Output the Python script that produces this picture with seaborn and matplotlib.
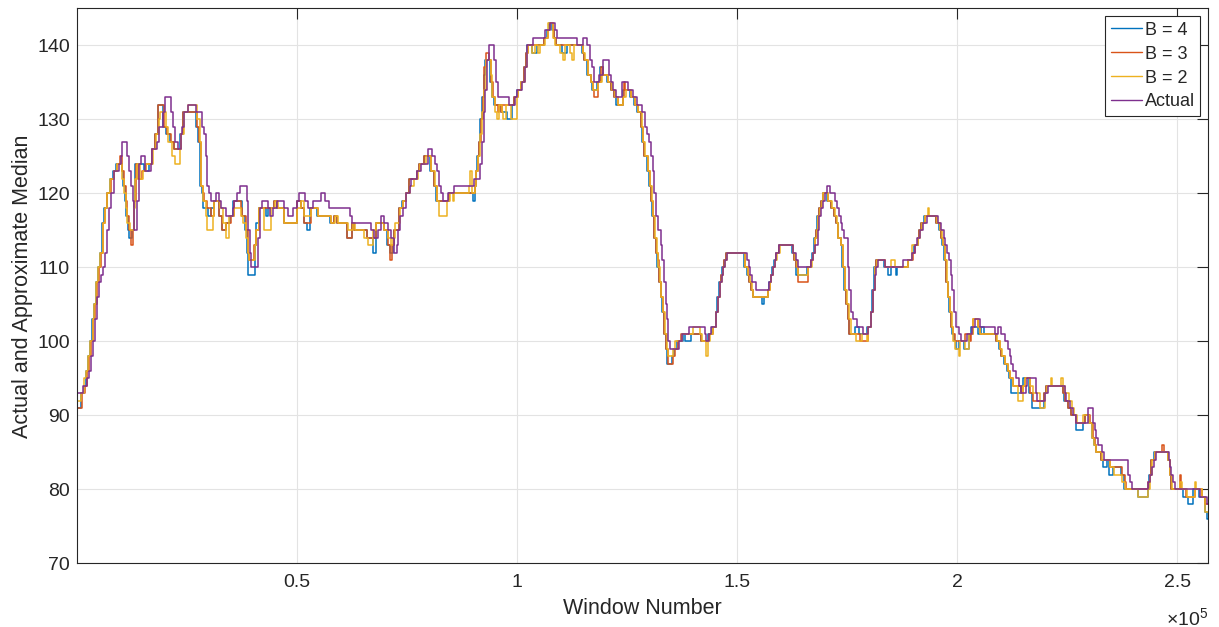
import numpy as np
import pandas as pd
import matplotlib
matplotlib.use("Agg")
import matplotlib.pyplot as plt
from matplotlib.lines import Line2D
import seaborn as sns

# Window numbers are given in thousands; each list pairs with the value list below it.
actual_k = [
    0.2, 1.5, 2.3, 2.8, 3.3, 3.7, 4.2, 4.6, 5.1, 5.5,
    6.0, 6.4, 6.9, 7.3, 7.8, 8.5, 9.6, 10.0, 10.4, 11.5,
    11.9, 12.4, 12.7, 13.0, 13.8, 14.2, 14.5, 15.5, 16.8, 17.2,
    18.3, 18.7, 19.5, 20.1, 21.5, 21.9, 22.3, 23.0, 23.6, 24.0,
    24.4, 25.2, 27.2, 28.4, 28.9, 29.3, 29.7, 30.1, 30.5, 31.6,
    32.3, 32.7, 34.0, 35.4, 35.8, 36.5, 37.0, 38.6, 39.0, 39.4,
    39.7, 41.2, 41.6, 42.2, 43.4, 43.9, 44.6, 45.4, 47.0, 48.0,
    49.2, 50.0, 50.6, 51.8, 52.6, 53.6, 55.6, 56.4, 57.4, 62.1,
    62.6, 66.8, 67.6, 68.4, 69.1, 69.8, 70.6, 71.4, 72.1, 72.7,
    73.0, 73.4, 74.0, 74.8, 75.6, 76.0, 77.2, 78.2, 79.9, 80.7,
    81.4, 81.9, 82.2, 82.7, 83.3, 84.4, 85.6, 90.3, 91.6, 92.0,
    92.4, 92.8, 93.2, 93.6, 94.8, 95.2, 95.6, 98.1, 99.6, 100.0,
    101.2, 101.8, 102.2, 103.6, 106.4, 107.5, 108.6, 109.0, 113.6, 115.0,
    116.0, 116.6, 117.0, 117.6, 118.6, 119.6, 120.8, 121.4, 121.9, 122.6,
    123.9, 125.3, 126.4, 127.2, 128.4, 129.0, 129.6, 130.0, 130.4, 130.8,
    131.2, 131.6, 132.0, 132.6, 133.0, 133.4, 133.8, 134.1, 134.4, 134.8,
    136.9, 137.4, 139.1, 142.6, 143.0, 143.6, 144.0, 145.3, 145.7, 146.1,
    146.5, 146.9, 147.3, 147.8, 152.2, 152.6, 153.0, 153.4, 154.2, 157.3,
    157.7, 158.1, 158.5, 158.9, 159.6, 162.6, 163.4, 163.8, 166.8, 167.2,
    167.6, 168.3, 168.7, 169.1, 169.5, 169.9, 170.3, 171.2, 172.3, 172.7,
    173.1, 173.5, 173.9, 174.3, 175.1, 175.4, 175.8, 176.2, 177.3, 178.5,
    179.7, 180.5, 180.8, 181.2, 181.6, 182.1, 183.6, 187.6, 189.6, 190.3,
    190.9, 191.5, 192.3, 193.1, 195.6, 196.2, 196.9, 197.3, 197.7, 198.1,
    198.5, 198.8, 199.2, 199.6, 200.3, 200.9, 202.1, 203.3, 204.0, 205.2,
    208.5, 209.2, 210.0, 210.8, 211.5, 211.9, 212.3, 212.7, 213.4, 214.0,
    214.4, 215.5, 215.9, 217.8, 218.2, 220.0, 220.6, 224.4, 224.8, 225.5,
    226.3, 227.0, 229.7, 230.8, 231.2, 231.6, 232.0, 232.8, 233.4, 238.8,
    239.2, 239.6, 243.4, 243.8, 244.2, 244.6, 245.2, 248.0, 248.4, 248.6,
    249.0, 249.4, 255.1, 256.6, 257.0,
]
actual_median = [
    93, 94, 95, 96, 98, 100, 103, 106, 108, 109,
    110, 112, 115, 118, 120, 123, 124, 125, 127, 125,
    123, 121, 119, 115, 119, 124, 125, 123, 124, 126,
    127, 129, 131, 133, 131, 129, 127, 126, 128, 129,
    131, 132, 131, 129, 128, 125, 121, 120, 119, 120,
    119, 118, 117, 118, 119, 120, 121, 119, 115, 112,
    110, 114, 118, 119, 118, 117, 118, 119, 118, 117,
    118, 119, 120, 119, 118, 119, 120, 119, 118, 117,
    116, 115, 114, 115, 117, 116, 115, 114, 112, 113,
    115, 117, 118, 120, 121, 122, 123, 124, 126, 125,
    124, 123, 121, 120, 119, 120, 121, 122, 124, 127,
    131, 134, 138, 140, 138, 135, 133, 132, 133, 134,
    135, 137, 140, 141, 142, 143, 142, 141, 140, 141,
    140, 138, 137, 135, 136, 138, 136, 135, 134, 133,
    135, 134, 133, 132, 131, 129, 128, 127, 125, 123,
    120, 117, 115, 113, 111, 108, 105, 103, 100, 99,
    100, 101, 102, 101, 100, 101, 102, 104, 106, 108,
    109, 110, 111, 112, 111, 110, 109, 108, 107, 108,
    109, 110, 111, 112, 113, 112, 111, 110, 111, 112,
    113, 115, 117, 118, 119, 120, 121, 120, 119, 118,
    117, 116, 115, 114, 110, 107, 104, 103, 102, 101,
    102, 104, 107, 109, 110, 111, 110, 111, 112, 113,
    114, 115, 116, 117, 116, 115, 114, 113, 112, 111,
    109, 107, 104, 102, 101, 100, 101, 102, 103, 102,
    101, 102, 101, 100, 99, 98, 97, 96, 95, 94,
    93, 94, 95, 93, 92, 93, 94, 93, 92, 91,
    90, 89, 91, 89, 88, 87, 86, 85, 84, 82,
    81, 80, 81, 82, 83, 84, 85, 84, 83, 82,
    81, 80, 79, 78, 78,
]

b4_k = [
    0.2, 1.0, 1.6, 2.1, 2.6, 3.1, 3.5, 3.9, 4.4, 4.9,
    5.4, 5.8, 6.3, 6.8, 7.5, 8.3, 9.0, 10.2, 10.6, 11.0,
    11.3, 11.6, 11.9, 12.6, 13.0, 13.3, 15.3, 16.4, 17.1, 17.8,
    18.4, 19.6, 20.4, 21.2, 22.0, 23.4, 24.1, 27.2, 27.6, 28.0,
    28.4, 28.7, 29.9, 30.6, 31.2, 32.3, 33.0, 33.9, 34.9, 35.6,
    37.5, 38.2, 38.6, 39.0, 40.4, 40.8, 41.3, 42.9, 43.4, 44.8,
    45.5, 47.0, 50.0, 50.9, 51.6, 52.4, 52.9, 54.6, 57.6, 58.4,
    59.1, 61.4, 62.5, 63.0, 66.0, 67.2, 67.9, 69.7, 70.5, 71.1,
    71.8, 72.0, 73.2, 73.9, 74.7, 75.4, 77.3, 77.7, 78.8, 80.3,
    81.1, 81.7, 84.5, 89.9, 90.4, 90.7, 91.0, 91.3, 91.7, 92.1,
    92.5, 92.8, 93.9, 94.3, 94.8, 96.3, 97.8, 98.8, 99.3, 100.1,
    100.8, 101.6, 102.0, 102.3, 103.5, 104.5, 106.1, 106.9, 107.3, 108.0,
    108.4, 108.8, 110.3, 111.3, 114.8, 115.2, 116.0, 116.7, 117.1, 118.2,
    118.9, 119.5, 120.5, 121.3, 122.0, 122.4, 124.1, 125.7, 126.6, 127.3,
    128.1, 128.5, 128.8, 129.6, 130.0, 130.4, 130.7, 131.1, 131.5, 131.9,
    132.2, 132.6, 133.0, 133.4, 133.8, 134.1, 135.3, 135.7, 136.4, 137.7,
    138.2, 139.6, 141.7, 143.4, 144.4, 145.1, 145.5, 145.9, 146.3, 146.6,
    147.0, 147.4, 151.6, 152.3, 152.7, 153.1, 153.5, 155.7, 156.1, 156.9,
    157.3, 157.6, 158.0, 158.4, 158.8, 159.5, 162.5, 162.9, 163.3, 165.9,
    166.7, 167.1, 167.5, 167.9, 168.2, 168.6, 169.0, 169.4, 170.5, 171.3,
    172.0, 172.4, 172.8, 173.5, 173.9, 174.3, 174.7, 175.1, 175.4, 176.8,
    177.6, 179.6, 180.3, 180.7, 181.1, 181.5, 183.4, 184.2, 185.0, 186.0,
    186.4, 188.7, 189.8, 190.2, 191.0, 191.3, 191.7, 192.5, 195.1, 195.9,
    196.3, 196.6, 197.0, 197.4, 197.8, 198.2, 198.5, 198.9, 199.3, 199.7,
    200.5, 201.6, 202.6, 203.1, 204.6, 205.3, 206.1, 208.8, 209.5, 209.9,
    210.7, 211.4, 211.8, 212.2, 214.4, 215.0, 216.3, 217.0, 219.7, 220.1,
    223.9, 224.3, 225.1, 225.8, 226.9, 228.5, 228.9, 229.9, 230.6, 231.0,
    231.5, 232.6, 233.1, 233.9, 234.5, 235.4, 237.2, 237.9, 241.0, 243.2,
    243.6, 244.0, 244.7, 247.8, 248.2, 248.5, 251.3, 252.4, 253.6, 255.0,
    256.2, 256.6, 257.0,
]
b4_median = [
    91, 93, 94, 96, 98, 100, 103, 105, 108, 110,
    112, 116, 118, 120, 122, 123, 124, 123, 121, 119,
    117, 115, 114, 115, 119, 124, 123, 124, 126, 128,
    132, 129, 128, 127, 126, 128, 131, 129, 127, 121,
    120, 118, 117, 118, 119, 117, 115, 116, 117, 119,
    117, 115, 112, 109, 113, 116, 118, 117, 118, 119,
    118, 116, 119, 118, 116, 115, 118, 117, 116, 117,
    116, 114, 116, 115, 114, 112, 116, 115, 113, 112,
    113, 115, 118, 119, 120, 122, 123, 124, 125, 123,
    121, 119, 120, 119, 121, 123, 125, 127, 130, 133,
    136, 138, 135, 133, 132, 131, 130, 132, 133, 134,
    135, 137, 139, 140, 139, 140, 141, 142, 143, 142,
    141, 140, 139, 140, 139, 138, 136, 135, 134, 135,
    137, 136, 135, 134, 133, 132, 134, 133, 132, 131,
    129, 127, 125, 123, 121, 119, 117, 114, 112, 110,
    108, 106, 104, 101, 99, 97, 98, 99, 100, 101,
    100, 101, 100, 101, 102, 104, 106, 108, 109, 110,
    111, 112, 110, 109, 108, 107, 106, 105, 106, 107,
    108, 109, 110, 111, 112, 113, 112, 111, 109, 110,
    111, 112, 114, 115, 117, 118, 119, 120, 119, 118,
    117, 116, 114, 113, 110, 107, 105, 103, 101, 102,
    101, 102, 104, 107, 110, 111, 110, 109, 110, 109,
    110, 111, 112, 113, 114, 115, 116, 117, 116, 115,
    114, 113, 111, 108, 106, 104, 102, 101, 100, 99,
    100, 99, 101, 102, 101, 102, 101, 100, 99, 98,
    97, 96, 95, 93, 94, 95, 93, 91, 93, 94,
    93, 92, 91, 90, 88, 89, 90, 89, 87, 86,
    85, 84, 83, 84, 82, 83, 82, 80, 79, 80,
    82, 84, 85, 84, 82, 80, 79, 78, 80, 79,
    77, 76, 76,
]

b3_k = [
    0.2, 1.2, 1.8, 2.3, 2.8, 3.3, 3.7, 4.1, 4.6, 5.0,
    5.6, 6.0, 6.5, 7.0, 7.7, 8.5, 9.2, 9.8, 10.4, 10.8,
    11.1, 11.5, 11.9, 12.3, 12.8, 13.1, 13.4, 14.0, 14.9, 15.7,
    17.2, 17.9, 18.5, 19.8, 20.6, 21.4, 22.1, 23.6, 24.2, 27.3,
    27.8, 28.2, 28.6, 28.9, 29.7, 30.4, 31.2, 32.4, 33.1, 33.9,
    35.0, 35.8, 37.3, 37.6, 38.4, 38.8, 39.2, 40.3, 40.7, 41.4,
    44.9, 45.6, 47.1, 50.1, 51.0, 51.7, 53.2, 54.7, 57.7, 58.5,
    59.2, 61.5, 62.6, 63.0, 66.0, 68.0, 69.8, 70.6, 71.2, 71.7,
    72.1, 73.3, 74.0, 74.8, 75.5, 77.4, 77.8, 78.9, 80.4, 81.2,
    81.8, 84.6, 90.4, 90.7, 91.1, 91.4, 91.8, 92.2, 92.6, 92.9,
    93.7, 94.1, 94.5, 94.9, 95.6, 96.0, 96.4, 96.7, 99.4, 100.2,
    100.9, 101.7, 102.1, 102.4, 106.2, 107.0, 107.4, 108.1, 108.5, 108.9,
    114.9, 115.3, 116.1, 116.8, 117.2, 117.6, 118.3, 119.1, 119.5, 120.6,
    121.4, 122.1, 122.9, 124.0, 124.2, 124.6, 125.9, 126.7, 127.4, 128.2,
    128.6, 128.9, 129.7, 130.1, 130.5, 130.8, 131.2, 131.6, 132.0, 132.3,
    132.7, 133.1, 133.5, 133.9, 134.2, 135.4, 135.8, 136.5, 137.3, 141.8,
    143.5, 144.5, 145.2, 145.6, 146.0, 146.4, 146.7, 147.1, 147.5, 151.7,
    152.4, 152.8, 153.2, 153.6, 157.0, 157.35, 157.7, 158.1, 158.5, 158.9,
    159.6, 162.6, 163.0, 163.4, 163.8, 166.06, 166.8, 167.2, 167.6, 168.0,
    168.3, 168.7, 169.1, 169.5, 170.6, 171.4, 172.1, 172.5, 172.9, 173.6,
    174.0, 174.4, 174.8, 175.15, 175.5, 177.8, 179.7, 180.45, 180.8, 181.2,
    181.6, 183.5, 188.8, 189.9, 190.3, 191.06, 191.4, 191.8, 192.6, 195.2,
    196.0, 196.4, 196.7, 197.1, 197.5, 197.9, 198.3, 198.6, 199.0, 199.4,
    201.7, 202.8, 203.2, 203.6, 204.7, 205.1, 208.9, 209.6, 210.0, 210.8,
    211.5, 211.9, 212.6, 214.5, 214.9, 215.3, 216.4, 217.2, 219.8, 220.2,
    224.0, 224.4, 225.2, 225.9, 227.05, 228.9, 230.1, 230.8, 231.2, 231.6,
    232.7, 234.6, 237.3, 238.0, 238.4, 243.3, 243.7, 244.1, 244.8, 246.5,
    246.9, 247.9, 248.25, 248.6, 250.5, 250.9, 252.0, 253.9, 255.5, 256.2,
    257.0,
]
b3_median = [
    91, 93, 94, 96, 98, 100, 103, 105, 108, 110,
    112, 116, 118, 120, 122, 123, 124, 125, 123, 121,
    119, 117, 115, 113, 115, 119, 124, 122, 123, 124,
    126, 128, 132, 129, 128, 127, 126, 128, 131, 129,
    127, 121, 120, 119, 118, 117, 119, 117, 115, 116,
    117, 119, 118, 117, 115, 112, 111, 113, 115, 118,
    119, 118, 116, 119, 118, 116, 118, 117, 116, 117,
    116, 114, 116, 115, 114, 116, 115, 113, 111, 113,
    115, 118, 119, 120, 122, 123, 124, 125, 123, 121,
    119, 120, 121, 123, 125, 127, 130, 133, 137, 139,
    138, 135, 133, 132, 131, 132, 131, 132, 133, 134,
    135, 137, 139, 140, 141, 142, 143, 142, 141, 140,
    139, 138, 136, 135, 134, 133, 135, 137, 136, 135,
    134, 133, 132, 133, 135, 134, 133, 132, 131, 129,
    127, 125, 123, 121, 119, 117, 114, 112, 111, 108,
    106, 104, 101, 99, 97, 98, 99, 100, 101, 100,
    101, 102, 104, 106, 108, 109, 110, 111, 112, 110,
    109, 108, 107, 106, 107, 108, 109, 110, 111, 112,
    113, 112, 111, 110, 108, 110, 111, 112, 114, 115,
    117, 118, 119, 120, 119, 118, 117, 116, 114, 113,
    110, 107, 105, 103, 101, 100, 102, 104, 107, 110,
    111, 110, 111, 112, 113, 114, 115, 116, 117, 116,
    115, 114, 113, 111, 108, 106, 104, 102, 101, 100,
    101, 100, 101, 103, 102, 101, 100, 99, 98, 97,
    96, 95, 94, 93, 94, 95, 93, 92, 93, 94,
    93, 92, 91, 90, 89, 90, 89, 87, 86, 85,
    84, 83, 82, 81, 80, 81, 82, 84, 85, 86,
    85, 84, 82, 80, 82, 80, 79, 80, 79, 78,
    78,
]

b2_k = [
    0.2, 1.0, 1.6, 2.1, 2.6, 3.1, 3.6, 4.0, 4.5, 4.9,
    5.4, 5.9, 6.4, 6.9, 7.6, 8.4, 9.1, 10.3, 10.7, 11.1,
    11.5, 12.0, 13.0, 13.3, 13.8, 14.3, 15.0, 15.8, 17.3, 18.0,
    18.6, 18.9, 20.2, 20.8, 21.6, 22.4, 23.4, 23.8, 24.4, 25.3,
    27.3, 27.9, 28.3, 28.7, 29.3, 29.7, 30.9, 31.3, 32.5, 33.2,
    33.9, 34.7, 35.8, 37.3, 37.7, 38.4, 38.8, 39.2, 40.4, 40.8,
    41.5, 42.6, 44.2, 45.0, 45.7, 47.1, 50.1, 51.0, 51.7, 53.2,
    54.8, 57.8, 58.6, 59.3, 61.6, 62.7, 63.1, 65.3, 66.1, 67.3,
    68.0, 69.9, 70.7, 71.3, 71.8, 72.2, 73.4, 74.1, 74.9, 75.6,
    76.5, 77.5, 77.9, 79.3, 80.5, 81.3, 81.9, 82.3, 84.2, 84.7,
    85.4, 85.8, 89.2, 89.4, 89.7, 90.5, 90.8, 91.2, 91.6, 92.0,
    92.4, 92.9, 94.0, 94.4, 94.9, 95.5, 95.9, 96.6, 96.9, 97.4,
    98.6, 99.9, 100.3, 101.0, 101.8, 102.2, 102.6, 103.3, 104.0, 104.7,
    105.3, 106.3, 107.1, 108.2, 108.6, 109.8, 110.5, 111.0, 112.0, 112.4,
    112.9, 114.9, 115.4, 116.2, 116.9, 117.3, 118.4, 119.2, 120.7, 121.5,
    122.2, 123.0, 124.1, 124.7, 126.0, 126.8, 127.5, 128.3, 128.7, 129.0,
    129.8, 130.2, 130.6, 130.9, 131.3, 131.7, 132.1, 132.4, 132.8, 133.2,
    133.6, 134.0, 134.3, 135.5, 136.0, 137.4, 139.9, 141.5, 142.0, 143.0,
    143.4, 143.8, 144.6, 145.3, 145.7, 146.1, 146.5, 146.8, 147.2, 147.6,
    151.8, 152.5, 152.9, 153.3, 153.7, 157.1, 157.5, 157.8, 158.2, 158.6,
    159.0, 159.7, 162.7, 163.1, 163.5, 163.9, 166.1, 166.9, 167.3, 167.7,
    168.1, 168.4, 168.8, 169.2, 169.6, 170.7, 171.5, 172.2, 172.6, 173.0,
    173.7, 174.1, 174.5, 174.9, 175.3, 175.9, 177.0, 178.3, 179.4, 179.8,
    180.5, 180.9, 181.3, 181.7, 183.6, 185.0, 185.8, 188.9, 189.6, 190.4,
    191.1, 191.5, 191.9, 192.7, 193.3, 193.6, 195.3, 196.1, 196.5, 196.8,
    197.2, 197.6, 198.0, 198.4, 198.7, 199.1, 199.4, 200.4, 200.7, 201.7,
    202.6, 203.5, 204.7, 205.2, 209.0, 209.7, 210.1, 210.9, 211.6, 212.0,
    212.7, 213.8, 214.9, 215.4, 216.5, 217.3, 218.7, 219.9, 220.3, 221.2,
    221.5, 223.6, 223.9, 224.5, 225.3, 226.0, 226.5, 227.2, 228.6, 229.8,
    230.7, 231.1, 231.5, 232.8, 234.7, 235.5, 237.4, 238.1, 241.1, 243.2,
    243.8, 244.2, 244.9, 247.9, 248.3, 248.7, 250.6, 251.0, 252.1, 253.9,
    254.2, 255.6, 256.2, 257.0,
]
b2_median = [
    92, 93, 95, 96, 98, 100, 103, 105, 108, 110,
    112, 116, 118, 120, 122, 123, 124, 122, 120, 118,
    116, 115, 118, 122, 124, 122, 123, 124, 126, 128,
    130, 131, 129, 127, 125, 124, 126, 128, 131, 132,
    130, 127, 121, 119, 117, 115, 117, 119, 118, 116,
    114, 117, 118, 117, 116, 114, 112, 111, 113, 115,
    118, 115, 118, 119, 118, 116, 118, 119, 117, 118,
    117, 116, 117, 116, 115, 116, 115, 114, 113, 115,
    116, 115, 114, 113, 114, 116, 118, 119, 120, 121,
    122, 123, 124, 125, 123, 121, 119, 117, 119, 120,
    119, 120, 121, 123, 120, 121, 123, 125, 128, 131,
    134, 138, 136, 133, 131, 130, 132, 131, 130, 132,
    130, 133, 134, 135, 137, 139, 140, 139, 140, 139,
    140, 141, 143, 141, 140, 139, 138, 140, 139, 138,
    140, 139, 138, 136, 135, 134, 135, 136, 135, 134,
    133, 132, 133, 134, 133, 132, 131, 129, 127, 125,
    123, 121, 119, 117, 114, 112, 110, 108, 106, 104,
    101, 99, 98, 99, 100, 101, 102, 101, 100, 98,
    100, 101, 102, 104, 106, 108, 109, 110, 111, 112,
    110, 109, 108, 107, 106, 107, 108, 109, 110, 111,
    112, 113, 112, 111, 110, 109, 110, 111, 112, 114,
    115, 117, 118, 119, 120, 119, 118, 117, 116, 114,
    113, 110, 107, 105, 103, 101, 100, 101, 100, 102,
    104, 107, 110, 111, 110, 111, 110, 111, 113, 113,
    114, 115, 116, 117, 118, 117, 116, 115, 114, 113,
    111, 108, 106, 104, 102, 100, 99, 98, 100, 99,
    101, 103, 102, 101, 100, 99, 98, 97, 96, 95,
    94, 92, 94, 95, 94, 93, 91, 93, 94, 95,
    94, 95, 94, 93, 92, 91, 90, 89, 90, 89,
    87, 86, 85, 84, 83, 82, 81, 80, 79, 80,
    82, 84, 85, 84, 82, 80, 81, 80, 79, 81,
    80, 79, 77, 77,
]

series_names = ["B = 4", "B = 3", "B = 2", "Actual"]
series_colors = ["#0072BD", "#D95319", "#EDB120", "#7E2F8E"]
x_tick_values = [50000, 100000, 150000, 200000, 250000]
x_tick_labels = ["0.5", "1", "1.5", "2", "2.5"]
y_tick_values = [70, 80, 90, 100, 110, 120, 130, 140]

sns.set_theme(style="white")
plt.rcParams["font.family"] = ["Liberation Sans", "DejaVu Sans"]
plt.rcParams["mathtext.fontset"] = "custom"
plt.rcParams["mathtext.rm"] = "Liberation Sans"

ink = "#262626"

frames = []
for name, ks, vals in zip(series_names,
                          [b4_k, b3_k, b2_k, actual_k],
                          [b4_median, b3_median, b2_median, actual_median]):
    assert len(ks) == len(vals), name
    frames.append(pd.DataFrame({"window": np.asarray(ks) * 1000.0,
                                "median": vals,
                                "series": name}))
df = pd.concat(frames, ignore_index=True)

fig = plt.figure(figsize=(12.19, 6.27), dpi=100)
ax = fig.add_axes([0.0629, 0.1013, 0.9283, 0.8855])

sns.lineplot(data=df, x="window", y="median", hue="series",
             hue_order=series_names, palette=series_colors,
             estimator=None, sort=False, drawstyle="steps-post",
             linewidth=1.1, legend=False, ax=ax)

ax.set_xlim(1, 257000)
ax.set_ylim(70, 145)
ax.set_xticks(x_tick_values)
ax.set_xticklabels(x_tick_labels)
ax.set_yticks(y_tick_values)

ax.grid(True, color="#e3e3e3", linewidth=0.8)
ax.set_axisbelow(True)
for sp in ax.spines.values():
    sp.set_color(ink)
    sp.set_linewidth(0.8)
ax.tick_params(axis="both", direction="in", length=8, width=0.8,
               colors=ink, labelsize=14, top=True, right=True)
ax.tick_params(axis="x", pad=7.5)
ax.tick_params(axis="y", pad=4.8)

ax.set_xlabel("Window Number", fontsize=15.5, color=ink, labelpad=5)
ax.set_ylabel("Actual and Approximate Median", fontsize=15.5, color=ink, labelpad=3)

fig.text(1208 / 1219, 1 - 625 / 627, r"$\times\mathregular{10^{5}}$",
         ha="right", va="baseline", fontsize=14, color=ink)

handles = [Line2D([0], [0], color=c, linewidth=1.0) for c in series_colors]
leg = ax.legend(handles, series_names, loc="upper right", fontsize=13,
                frameon=True, fancybox=False, framealpha=1.0,
                edgecolor=ink, borderaxespad=0.45, handlelength=1.75,
                handletextpad=0.12, labelspacing=0.38, borderpad=0.3)
leg.get_frame().set_linewidth(0.8)

fig.savefig("out.png", dpi=100)
